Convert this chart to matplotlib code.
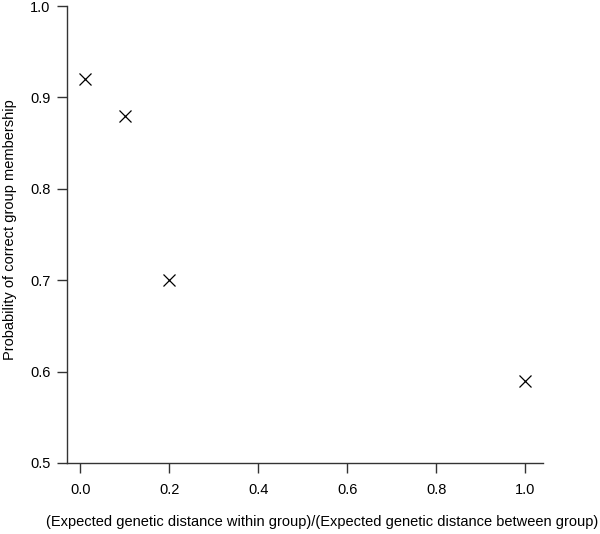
import matplotlib
matplotlib.use("Agg")
import matplotlib.pyplot as plt

plt.rcParams['font.family'] = ['Liberation Sans', 'DejaVu Sans']

ratio = [0.01, 0.1, 0.2, 1.0]
prob = [0.92, 0.88, 0.70, 0.59]
xticks = [0.0, 0.2, 0.4, 0.6, 0.8, 1.0]
yticks = [0.5, 0.6, 0.7, 0.8, 0.9, 1.0]

fig = plt.figure(figsize=(6, 5.34), dpi=100)
ax = fig.add_axes([67/600, 1-463/534, (543-67)/600, (463-6)/534])

ax.plot(ratio, prob, 'x', color='black', markersize=9, markeredgewidth=0.9)

ax.set_xlim(-0.0296, 1.0396)
ax.set_ylim(0.5, 1.0)
ax.set_xticks(xticks)
ax.set_xticklabels(['%.1f' % v for v in xticks])
ax.set_yticks(yticks)
ax.set_yticklabels(['%.1f' % v for v in yticks])

for s in ['top', 'right']:
    ax.spines[s].set_visible(False)
for s in ['left', 'bottom']:
    ax.spines[s].set_color('#333333')
    ax.spines[s].set_linewidth(1.0)
ax.tick_params(direction='out', length=7, width=1.0, color='#333333',
               labelsize=10.5)
ax.tick_params(axis='x', pad=7.5)
ax.tick_params(axis='y', pad=5)

ax.set_xlabel('(Expected genetic distance within group)/(Expected genetic distance between group)',
              fontsize=10.5, labelpad=13, x=0.536)
ax.set_ylabel('Probability of correct group membership', fontsize=10.5, labelpad=9, y=0.51)

fig.savefig('out.png', dpi=100)
